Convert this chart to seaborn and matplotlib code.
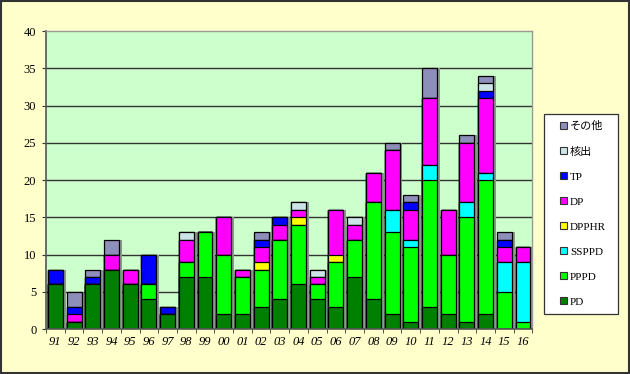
import matplotlib
matplotlib.use("Agg")
import matplotlib.pyplot as plt
import matplotlib.patheffects as pe
from matplotlib.patches import Patch
import seaborn as sns
import pandas as pd
import numpy as np

years = ["91", "92", "93", "94", "95", "96", "97", "98", "99", "00", "01", "02", "03",
         "04", "05", "06", "07", "08", "09", "10", "11", "12", "13", "14", "15", "16"]

PD     = [6, 1, 6, 8, 6, 4, 2, 7, 7, 2, 2, 3, 4, 6, 4, 3, 7, 4, 2, 1, 3, 2, 1, 2, 0, 0]
PPPD   = [0, 0, 0, 0, 0, 2, 0, 2, 6, 8, 5, 5, 8, 8, 2, 6, 5, 13, 11, 10, 17, 8, 14, 18, 5, 1]
SSPPD  = [0, 0, 0, 0, 0, 0, 0, 0, 0, 0, 0, 0, 0, 0, 0, 0, 0, 0, 3, 1, 2, 0, 2, 1, 4, 8]
DPPHR  = [0, 0, 0, 0, 0, 0, 0, 0, 0, 0, 0, 1, 0, 1, 0, 1, 0, 0, 0, 0, 0, 0, 0, 0, 0, 0]
DP     = [0, 1, 0, 2, 2, 0, 0, 3, 0, 5, 1, 2, 2, 1, 1, 6, 2, 4, 8, 4, 9, 6, 8, 10, 2, 2]
TP     = [2, 1, 1, 0, 0, 4, 1, 0, 0, 0, 0, 1, 1, 0, 0, 0, 0, 0, 0, 1, 0, 0, 0, 1, 1, 0]
KAKU   = [0, 0, 0, 0, 0, 0, 0, 1, 0, 0, 0, 0, 0, 1, 1, 0, 1, 0, 0, 0, 0, 0, 0, 1, 0, 0]
OTHER  = [0, 2, 1, 2, 0, 0, 0, 0, 0, 0, 0, 1, 0, 0, 0, 0, 0, 0, 1, 1, 4, 0, 1, 1, 1, 0]

series_names = ["PD", "PPPD", "SSPPD", "DPPHR", "DP", "TP", "核出", "その他"]
series_vals = [PD, PPPD, SSPPD, DPPHR, DP, TP, KAKU, OTHER]
colors = ["#008000", "#00FF00", "#00FFFF", "#FFFF00", "#FF00FF", "#0000FF", "#CCE4E8", "#8E8EBA"]

df = pd.DataFrame({n: v for n, v in zip(series_names, series_vals)}, index=years)
cum = df.cumsum(axis=1)

fig = plt.figure(figsize=(6.3, 3.74), dpi=100, facecolor="#FFFFCC")
ax = fig.add_axes([0.073, 0.12, 0.772, 0.797])
ax.set_facecolor("#CCFFCC")

# horizontal grid lines
for yv in range(5, 40, 5):
    ax.axhline(yv, color="#333333", lw=1.0, zorder=0.5)

shadow = [pe.SimplePatchShadow(offset=(2, 0), shadow_rgbFace="#8A9A8A", alpha=1.0), pe.Normal()]
for i in range(len(series_names) - 1, -1, -1):
    name = series_names[i]
    d = pd.DataFrame({"year": years, "val": cum[name].values})
    sns.barplot(data=d, x="year", y="val", order=years, color=colors[i], saturation=1,
                width=0.8, edgecolor="black", linewidth=0.9, ax=ax, zorder=2)

for p in ax.patches:
    p.set_path_effects(shadow)

ax.set_ylim(0, 40)
ax.set_xlim(-0.5, len(years) - 0.5)
ax.set_yticks(range(0, 41, 5))
ax.set_xlabel("")
ax.set_ylabel("")

serif = ["Liberation Serif", "DejaVu Serif"]
ax.set_xticks(range(len(years)))
ax.set_xticklabels(years, fontfamily=serif, fontstyle="italic", fontsize=9)
ax.set_yticklabels([str(v) for v in range(0, 41, 5)], fontfamily=serif, fontsize=9)
ax.tick_params(axis="x", length=0, pad=5)
ax.set_xticks(np.arange(-0.5, len(years), 1), minor=True)
ax.tick_params(axis="x", which="minor", length=3, color="#333333", direction="out")
ax.tick_params(axis="y", length=3, color="#333333", pad=4)

for s in ["left", "bottom"]:
    ax.spines[s].set_color("#555555")
    ax.spines[s].set_linewidth(1.2)
for s in ["top", "right"]:
    ax.spines[s].set_color("#999999")
    ax.spines[s].set_linewidth(1.0)

# legend box
fig.patches.append(plt.Rectangle((544 / 630, 60 / 374), 74 / 630, 200 / 374,
                                 transform=fig.transFigure, facecolor="white",
                                 edgecolor="#333333", linewidth=0.9, zorder=1))
handles = [Patch(facecolor=colors[i], edgecolor="#333333", linewidth=0.8, label=series_names[i])
           for i in range(len(series_names) - 1, -1, -1)]
leg = fig.legend(handles=handles, loc="upper left", bbox_to_anchor=(560 / 630, 1 - 121 / 374),
                 prop={"family": ["Liberation Serif", "Noto Sans CJK JP"], "size": 8},
                 frameon=False, handlelength=0.6, handleheight=0.6, handletextpad=0.3,
                 labelspacing=1.4, borderpad=0, borderaxespad=0)
leg.set_zorder(3)

# outer border
fig.patches.append(plt.Rectangle((0.002, 0.003), 0.996, 0.994, transform=fig.transFigure,
                                 fill=False, edgecolor="#333333", linewidth=1.5))

fig.savefig("out.png", dpi=100, facecolor=fig.get_facecolor())
